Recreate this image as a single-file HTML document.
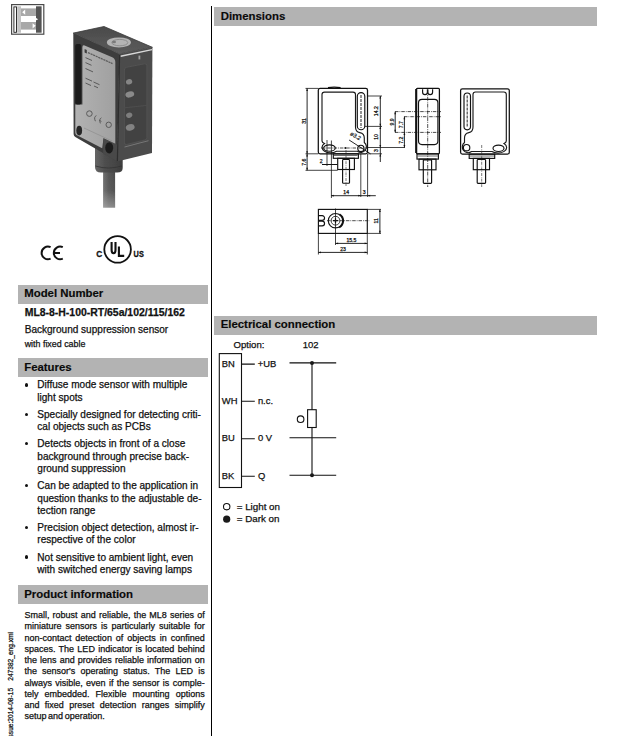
<!DOCTYPE html>
<html><head><meta charset="utf-8">
<style>
*{margin:0;padding:0;box-sizing:border-box}
html,body{width:618px;height:736px;background:#fff;overflow:hidden}
body{position:relative;font-family:"Liberation Sans",sans-serif;color:#111}
.t{position:absolute;white-space:nowrap;line-height:1;-webkit-text-stroke:0.25px #111}
.a{position:absolute}
.bar{position:absolute;background:#b3b3b3}
.h{font-weight:bold;font-size:11.4px;color:#0a0a0a;-webkit-text-stroke:0.15px #0a0a0a}
.f{left:37.3px;font-size:10.05px}
.bul{position:absolute;left:24.5px;width:3.6px;height:3.6px;border-radius:50%;background:#111}
.p{left:24.4px;font-size:9px}
.p.j{width:180.3px;text-align:justify;text-align-last:justify}
.p.last{word-spacing:-0.8px}
.vline{position:absolute;left:210.8px;top:5.8px;width:1.3px;height:731px;background:#000}
</style></head><body>
<div class="vline"></div>
<svg class="a" style="left:0;top:0" width="60" height="40" viewBox="0 0 60 40">
  <rect x="11.6" y="4.6" width="32.2" height="29.6" fill="#fff" stroke="#4a4a4a" stroke-width="1.2"/>
  <rect x="13.9" y="6.9" width="2.6" height="25.4" fill="#fff" stroke="#1a1a1a" stroke-width="0.9"/>
  <rect x="17.2" y="6.3" width="3.8" height="26.4" fill="#c4c4c4"/>
  <rect x="21" y="8.4" width="15" height="7.6" fill="#a8a8a8"/>
  <rect x="21" y="22" width="15" height="7.6" fill="#a8a8a8"/>
  <path d="M22.2 12.2 L25.2 9.6 V14.8 Z" fill="#fff"/>
  <path d="M35.6 25.8 L32.6 23.2 V28.4 Z" fill="#fff"/>
  <path d="M35.2 17.6 L38.2 19.2 L35.2 20.8 Z" fill="#fff"/>
  <rect x="36" y="6.3" width="5.6" height="26.4" fill="#545454"/>
  <path d="M35.2 17.6 L38.2 19.2 L35.2 20.8 Z" fill="#fff"/>
</svg>

<svg class="a" style="left:0;top:0" width="210" height="230" viewBox="0 0 210 230">
<defs>
<linearGradient id="cab" x1="0" x2="1" y1="0" y2="0"><stop offset="0" stop-color="#6e6e6e"/><stop offset="0.45" stop-color="#555"/><stop offset="1" stop-color="#4a4a4a"/></linearGradient>
<linearGradient id="cabf" x1="0" x2="0" y1="0" y2="1"><stop offset="0" stop-color="#fff" stop-opacity="0"/><stop offset="0.6" stop-color="#fff" stop-opacity="0.05"/><stop offset="1" stop-color="#fff" stop-opacity="0.35"/></linearGradient>
<linearGradient id="sr" x1="0" x2="1" y1="0" y2="0"><stop offset="0" stop-color="#666"/><stop offset="0.35" stop-color="#4e4e4e"/><stop offset="1" stop-color="#3e3e3e"/></linearGradient>
<linearGradient id="lab" x1="0" x2="1" y1="0" y2="0"><stop offset="0" stop-color="#b2b2b2"/><stop offset="1" stop-color="#a0a0a0"/></linearGradient>
<linearGradient id="top" x1="0" x2="0" y1="0" y2="1"><stop offset="0" stop-color="#4a4a4a"/><stop offset="1" stop-color="#5c5c5c"/></linearGradient>
<filter id="bl" x="-5%" y="-5%" width="110%" height="110%"><feGaussianBlur stdDeviation="0.5"/></filter>
</defs>
<g filter="url(#bl)">
<!-- cable -->
<rect x="103.1" y="165" width="12" height="42.6" fill="url(#cab)"/>
<rect x="103.1" y="165" width="12" height="42.6" fill="url(#cabf)"/>
<!-- strain relief -->
<path d="M95 146 L122.7 150 L122.7 168 Q122.7 172.6 117 172.6 L101 172.6 Q95 172.6 95 167 Z" fill="url(#sr)"/>
<path d="M95.5 166 Q108 170 122 166" stroke="#333" stroke-width="0.8" fill="none"/>
<!-- left face frame -->
<path d="M73.3 33.1 L119.4 54.1 L117.2 161.6 L103 153 L75.3 137 Q73.6 136 73.6 134 Z" fill="#3e3e3e"/>
<!-- label -->
<path d="M84.6 45.4 L112.2 57.3 Q115.3 58.8 115.3 62 L115.3 144.5 L103.5 138.3 L102.2 148.3 L76.5 135 Q75.3 134.3 75.3 132.5 L75.3 104.5 L82.4 104.5 L82.4 47.5 Q82.4 44.5 84.6 45.4 Z" fill="url(#lab)"/>
<!-- LED slot -->
<rect x="75.2" y="44" width="6.2" height="60.5" rx="2" fill="#1c1c1c"/>
<!-- label text marks -->
<g stroke="#5a5a5a" stroke-width="1" fill="none">
<rect x="84.6" y="49.2" width="2.2" height="3.6" fill="#3a3a3a" stroke="none" transform="skewY(24)" transform-origin="85 50"/>
<path d="M88 52.6 L112.5 63.6" stroke-width="1.2" stroke-dasharray="2.2 0.6"/>
<path d="M85.5 57.6 L92 60.5 M85.5 62.6 L91.5 65.3 M85.5 68.5 L93 71.9"/>
<path d="M85.5 78.2 L92 81.1 M85.5 83 L91 85.5 M93.5 82 L99.5 84.7 M94 86 L98 87.8"/>
<circle cx="89.4" cy="113.6" r="2.8"/>
<path d="M96.4 115.6 Q93.4 117 95.4 121.2 M101.4 117.8 Q98.6 119.2 100.4 123.4 M99.2 120.4 L101.4 121.4"/>
<circle cx="108.7" cy="124.8" r="2.7"/>
<path d="M84 128 L112 141" stroke="#8e8e8e" stroke-width="0.7"/>
</g>
<!-- lower-left hole -->
<ellipse cx="79.2" cy="130.6" rx="2.9" ry="4.8" fill="#262626"/>
<!-- boss -->
<path d="M103.5 138.3 L117.2 144.5 L117.2 161.6 L103 153.5 Z" fill="#484848"/>
<ellipse cx="109.2" cy="147.8" rx="4" ry="5.6" fill="#1e1e1e"/>
<!-- top face -->
<path d="M73.3 33.1 L104 26.5 L152.4 47.3 L119.4 54.1 Z" fill="url(#top)" stroke="#3a3a3a" stroke-width="0.8" stroke-linejoin="round"/>
<ellipse cx="118.9" cy="42.4" rx="12" ry="5" fill="#b4b4b4"/>
<ellipse cx="119.8" cy="42.6" rx="8" ry="3.2" fill="none" stroke="#8e8e8e" stroke-width="1"/>
<ellipse cx="114" cy="42" rx="2" ry="1.3" fill="#7a7a7a"/>
<!-- front face -->
<path d="M119.4 54.1 L152.4 47.3 L152 153 L117.2 161.6 Z" fill="#4b4b4b"/>
<path d="M120.6 56.3 L152 49.6" stroke="#d8d8d8" stroke-width="1.4"/>
<path d="M124.4 70 Q124.4 67.6 126.8 67.2 L144.6 63.8 Q146.9 63.4 146.9 65.8 L146.9 137.6 Q146.9 139.6 145 140 L126.5 144.5 Q124.4 145 124.4 142.8 Z" fill="#424242" stroke="#555" stroke-width="0.8"/>
<path d="M124.5 147 L148.5 140.7" stroke="#7a7a7a" stroke-width="0.9"/>
<path d="M124.4 107.8 L146.9 105.4" stroke="#4e4e4e" stroke-width="1"/>
<path d="M139.4 55.6 L139.4 59.4" stroke="#a0a0a0" stroke-width="1.8"/>
<ellipse cx="129.1" cy="81.8" rx="3.2" ry="2.6" fill="#858585" transform="rotate(-20 129.1 81.8)"/>
<ellipse cx="129.8" cy="94.4" rx="4.5" ry="3" fill="#8a8a8a" transform="rotate(-15 129.8 94.4)"/>
<ellipse cx="129.2" cy="115.2" rx="3.2" ry="2.6" fill="#7d7d7d" transform="rotate(-20 129.2 115.2)"/>
<ellipse cx="130.2" cy="127.4" rx="4.5" ry="3.2" fill="#828282" transform="rotate(-15 130.2 127.4)"/>
<path d="M119.6 54.5 L117.4 161" stroke="#2e2e2e" stroke-width="1.2"/>
</g>
</svg>

<svg class="a" style="left:0;top:0" width="160" height="270" viewBox="0 0 160 270">
<g fill="none" stroke="#111" stroke-width="2">
<path d="M50.6 247.2 A6.3 6.3 0 1 0 50.6 258.6"/>
<path d="M62.8 247.2 A6.3 6.3 0 1 0 62.8 258.6 M53.6 252.9 H60"/>
<circle cx="117.6" cy="249.4" r="13.3" stroke-width="1.8"/>
</g>
<g fill="#111" font-family="Liberation Sans" font-weight="bold" stroke="#111" stroke-width="0.35">
<text x="0" y="0" font-size="9.9px" transform="translate(96.2 257.1) scale(0.84 1)">C</text>
<text x="0" y="0" font-size="9.9px" transform="translate(133.6 257.1) scale(0.74 1)">US</text>
</g>
<g fill="none" stroke="#111" stroke-width="2.1" stroke-linecap="butt">
<path d="M111.6 242 V250 Q111.6 253.2 113.6 253.2 Q115.5 253.2 115.5 250 V242"/>
<path d="M118.9 246.5 V255.9 H124.2"/>
</g>
</svg>

<div class="bar" style="left:214.0px;top:7.1px;width:383.0px;height:18.6px"></div>
<div class="t h" style="left:220.7px;top:10.75px">Dimensions</div>
<div class="bar" style="left:18.1px;top:285.1px;width:189.9px;height:18.6px"></div>
<div class="t h" style="left:24.2px;top:287.95px">Model Number</div>
<div class="bar" style="left:18.1px;top:358.1px;width:189.9px;height:18.6px"></div>
<div class="t h" style="left:24.2px;top:361.85px">Features</div>
<div class="bar" style="left:18.1px;top:585.1px;width:189.9px;height:18.6px"></div>
<div class="t h" style="left:24.2px;top:588.85px">Product information</div>
<div class="bar" style="left:214.0px;top:316.1px;width:383.0px;height:18.6px"></div>
<div class="t h" style="left:220.7px;top:318.65px">Electrical connection</div>
<div class="t" style="left:24.7px;top:307.75px;font-weight:bold;font-size:10.45px">ML8-8-H-100-RT/65a/102/115/162</div>
<div class="t" style="left:24.7px;top:324.79px;font-size:10.05px">Background suppression sensor</div>
<div class="t" style="left:24.7px;top:340.1px;font-size:8.9px">with fixed cable</div>
<div class="t f" style="top:380.49px">Diffuse mode sensor with multiple</div>
<div class="bul" style="top:383.0px"></div>
<div class="t f" style="top:392.79px">light spots</div>
<div class="t f" style="top:409.99px">Specially designed for detecting criti-</div>
<div class="bul" style="top:412.5px"></div>
<div class="t f" style="top:422.29px">cal objects such as PCBs</div>
<div class="t f" style="top:439.39px">Detects objects in front of a close</div>
<div class="bul" style="top:441.9px"></div>
<div class="t f" style="top:451.64px">background through precise back-</div>
<div class="t f" style="top:463.89px">ground suppression</div>
<div class="t f" style="top:481.39px">Can be adapted to the application in</div>
<div class="bul" style="top:483.9px"></div>
<div class="t f" style="top:493.64px">question thanks to the adjustable de-</div>
<div class="t f" style="top:505.89px">tection range</div>
<div class="t f" style="top:522.99px">Precision object detection, almost ir-</div>
<div class="bul" style="top:525.5px"></div>
<div class="t f" style="top:535.29px">respective of the color</div>
<div class="t f" style="top:552.69px">Not sensitive to ambient light, even</div>
<div class="bul" style="top:555.2px"></div>
<div class="t f" style="top:564.99px">with switched energy saving lamps</div>
<div class="t p j" style="top:611.08px">Small, robust and reliable, the ML8 series of</div>
<div class="t p j" style="top:622.32px">miniature sensors is particularly suitable for</div>
<div class="t p j" style="top:633.56px">non-contact detection of objects in confined</div>
<div class="t p j" style="top:644.8px">spaces. The LED indicator is located behind</div>
<div class="t p j" style="top:656.04px">the lens and provides reliable information on</div>
<div class="t p j" style="top:667.28px">the sensor's operating status. The LED is</div>
<div class="t p j" style="top:678.52px">always visible, even if the sensor is comple-</div>
<div class="t p j" style="top:689.76px">tely embedded. Flexible mounting options</div>
<div class="t p j" style="top:701.0px">and fixed preset detection ranges simplify</div>
<div class="t p last" style="top:712.24px">setup and operation.</div>
<div class="t" style="left:7.8px;top:761.65px;transform-origin:0 0;transform:rotate(-90deg);font-size:6.6px">Date of issue:2014-08-15<span style="display:inline-block;width:7.2px"></span>247382_eng.xml</div>
<svg class="a" style="left:0;top:0" width="618" height="300" viewBox="0 0 618 300"><g font-family="Liberation Sans" fill="#111"><rect x="318.3" y="88.4" width="49.2" height="65.4" rx="1.8" fill="none" stroke="#111" stroke-width="1.25"/>
<path d="M328 87.6 Q334 86.6 340.6 87.6" fill="none" stroke="#111" stroke-width="1.3"/>
<path d="M322 141 V94.6 Q322 92.1 324.5 92.1 H353 Q355.5 92.1 355.5 94.6 V127 Q355.5 131.8 359.8 132.6 Q364.3 133.5 364.3 138 V142.5 A4.6 4.6 0 0 1 357.5 151.2 H336.5 A6.2 4 0 0 1 324.5 143.5 Q322 142.5 322 141" fill="none" stroke="#1a1a1a" stroke-width="1.15"/>
<rect x="357.3" y="92.6" width="7.5" height="37.1" rx="3.75" fill="none" stroke="#111" stroke-width="1.15"/>
<line x1="361" y1="95" x2="361" y2="128" stroke="#666" stroke-width="1.43" stroke-dasharray="3 1"/>
<ellipse cx="329.5" cy="148" rx="5.8" ry="3.2" fill="none" stroke="#111" stroke-width="1.15"/>
<circle cx="360.9" cy="148.4" r="3.1" fill="none" stroke="#111" stroke-width="1.15"/>
<line x1="321" y1="148" x2="367" y2="148" stroke="#1a1a1a" stroke-width="0.78" stroke-dasharray="3.5 1 0.8 1"/>
<circle cx="345.5" cy="148" r="0.9" fill="#111"/>
<rect x="333.3" y="153.8" width="25.1" height="4.5" fill="none" stroke="#111" stroke-width="1.15"/>
<line x1="334" y1="155.5" x2="357.6" y2="155.5" stroke="#444" stroke-width="0.78" />
<rect x="337.7" y="158.3" width="16.7" height="11.2" fill="none" stroke="#111" stroke-width="1.15"/>
<rect x="342.6" y="159.5" width="6.9" height="23.7" rx="0.8" fill="none" stroke="#111" stroke-width="1.15"/>
<line x1="346" y1="150" x2="346" y2="186" stroke="#333" stroke-width="0.65" stroke-dasharray="3 1 0.6 1"/>
<line x1="305.5" y1="88.4" x2="318.3" y2="88.4" stroke="#111" stroke-width="0.78" />
<line x1="305.5" y1="153.8" x2="318.3" y2="153.8" stroke="#111" stroke-width="0.78" />
<line x1="305.5" y1="170.3" x2="337.7" y2="170.3" stroke="#111" stroke-width="0.78" />
<line x1="307.1" y1="88.4" x2="307.1" y2="153.8" stroke="#111" stroke-width="0.91" />
<path d="M307.10 88.40 L306.20 91.00 L308.00 91.00Z" fill="#111"/>
<path d="M307.10 153.80 L306.20 151.20 L308.00 151.20Z" fill="#111"/>
<line x1="307.1" y1="153.8" x2="307.1" y2="170.3" stroke="#111" stroke-width="0.91" />
<path d="M307.10 153.80 L306.20 156.40 L308.00 156.40Z" fill="#111"/>
<path d="M307.10 170.30 L306.20 167.70 L308.00 167.70Z" fill="#111"/>
<text x="0" y="0" transform="translate(305.8 121) rotate(-90)" text-anchor="middle" font-size="5.1px" stroke="#111" stroke-width="0.25">31</text>
<text x="0" y="0" transform="translate(305.8 162.3) rotate(-90)" text-anchor="middle" font-size="5.1px" stroke="#111" stroke-width="0.25">7.6</text>
<line x1="327" y1="140" x2="327" y2="166" stroke="#111" stroke-width="0.78" />
<line x1="331.4" y1="140.5" x2="331.4" y2="198" stroke="#111" stroke-width="0.78" />
<line x1="322" y1="164.5" x2="337.5" y2="164.5" stroke="#111" stroke-width="1.04" />
<text x="321.2" y="163.2" text-anchor="middle" font-size="5.1px" stroke="#111" stroke-width="0.25">2</text>
<line x1="367.5" y1="96" x2="382" y2="96" stroke="#111" stroke-width="0.78" />
<line x1="365" y1="126.4" x2="382" y2="126.4" stroke="#111" stroke-width="0.78" />
<line x1="368" y1="147.5" x2="405" y2="147.5" stroke="#111" stroke-width="0.78" />
<line x1="368" y1="153.8" x2="382" y2="153.8" stroke="#111" stroke-width="0.78" />
<line x1="380.3" y1="96" x2="380.3" y2="126.4" stroke="#111" stroke-width="0.91" />
<path d="M380.30 96.00 L379.40 98.60 L381.20 98.60Z" fill="#111"/>
<path d="M380.30 126.40 L379.40 123.80 L381.20 123.80Z" fill="#111"/>
<line x1="380.3" y1="126.4" x2="380.3" y2="147.5" stroke="#111" stroke-width="0.91" />
<path d="M380.30 126.40 L379.40 129.00 L381.20 129.00Z" fill="#111"/>
<path d="M380.30 147.50 L379.40 144.90 L381.20 144.90Z" fill="#111"/>
<line x1="380.3" y1="147.5" x2="380.3" y2="162" stroke="#111" stroke-width="0.91" />
<path d="M380.30 153.80 L379.40 156.40 L381.20 156.40Z" fill="#111"/>
<text x="0" y="0" transform="translate(378.2 111.2) rotate(-90)" text-anchor="middle" font-size="5.1px" stroke="#111" stroke-width="0.25">14.2</text>
<text x="0" y="0" transform="translate(378.2 136.9) rotate(-90)" text-anchor="middle" font-size="5.1px" stroke="#111" stroke-width="0.25">10</text>
<text x="0" y="0" transform="translate(378.2 150.7) rotate(-90)" text-anchor="middle" font-size="5.1px" stroke="#111" stroke-width="0.25">3</text>
<line x1="349.1" y1="140" x2="370.6" y2="153.9" stroke="#111" stroke-width="0.91" />
<text x="0" y="0" transform="translate(354.6 137.6) rotate(30)" text-anchor="middle" font-size="5.6px" stroke="#111" stroke-width="0.2">ø3.2</text>
<line x1="360.8" y1="154" x2="360.8" y2="197" stroke="#111" stroke-width="0.78" />
<line x1="367.6" y1="154" x2="367.6" y2="197" stroke="#111" stroke-width="0.78" />
<line x1="331.2" y1="195.7" x2="375.8" y2="195.7" stroke="#111" stroke-width="0.91" />
<path d="M331.20 195.70 L333.80 194.80 L333.80 196.60Z" fill="#111"/>
<path d="M360.80 195.70 L358.20 194.80 L358.20 196.60Z" fill="#111"/>
<path d="M367.60 195.70 L370.20 194.80 L370.20 196.60Z" fill="#111"/>
<text x="346.2" y="193.6" text-anchor="middle" font-size="5.1px" stroke="#111" stroke-width="0.25">14</text>
<text x="364.2" y="193.6" text-anchor="middle" font-size="5.1px" stroke="#111" stroke-width="0.25">3</text>
<rect x="416.4" y="88.3" width="23" height="65.5" rx="1" fill="none" stroke="#111" stroke-width="1.25"/>
<line x1="416.2" y1="89" x2="416.2" y2="153" stroke="#111" stroke-width="2.08" />
<rect x="418.5" y="99.4" width="19.4" height="45.2" rx="3.5" fill="none" stroke="#111" stroke-width="1.15"/>
<path d="M422.6 89.2 V92.2 Q422.6 94.6 425 94.6 Q427.4 94.6 427.4 92.2 V89.2 M427.8 89.2 V92.2 Q427.8 94.6 430.2 94.6 Q432.6 94.6 432.6 92.2 V89.2" fill="none" stroke="#111" stroke-width="1.15"/>
<line x1="427.7" y1="90" x2="427.7" y2="187" stroke="#222" stroke-width="0.78" stroke-dasharray="4 1 0.8 1"/>
<line x1="395" y1="111.6" x2="441" y2="111.6" stroke="#1a1a1a" stroke-width="0.78" stroke-dasharray="3.5 1 0.8 1"/>
<line x1="404" y1="116.7" x2="441" y2="116.7" stroke="#1a1a1a" stroke-width="0.78" stroke-dasharray="3.5 1 0.8 1"/>
<line x1="395" y1="132.4" x2="441" y2="132.4" stroke="#1a1a1a" stroke-width="0.78" stroke-dasharray="3.5 1 0.8 1"/>
<line x1="395.2" y1="111.6" x2="395.2" y2="132.4" stroke="#111" stroke-width="0.91" />
<path d="M395.20 111.60 L394.30 114.20 L396.10 114.20Z" fill="#111"/>
<path d="M395.20 132.40 L394.30 129.80 L396.10 129.80Z" fill="#111"/>
<line x1="404.4" y1="116.7" x2="404.4" y2="147.5" stroke="#111" stroke-width="0.91" />
<path d="M404.40 116.70 L403.50 119.30 L405.30 119.30Z" fill="#111"/>
<path d="M404.40 147.50 L403.50 144.90 L405.30 144.90Z" fill="#111"/>
<path d="M404.40 132.40 L403.50 135.00 L405.30 135.00Z" fill="#111"/>
<text x="0" y="0" transform="translate(393.7 121.9) rotate(-90)" text-anchor="middle" font-size="5.1px" stroke="#111" stroke-width="0.25">9.9</text>
<text x="0" y="0" transform="translate(402.5 124.6) rotate(-90)" text-anchor="middle" font-size="5.1px" stroke="#111" stroke-width="0.25">7.7</text>
<text x="0" y="0" transform="translate(402.5 140.3) rotate(-90)" text-anchor="middle" font-size="5.1px" stroke="#111" stroke-width="0.25">7.2</text>
<rect x="417" y="153.8" width="21.4" height="5.3" fill="none" stroke="#111" stroke-width="1.15"/>
<line x1="417.5" y1="156" x2="438" y2="156" stroke="#444" stroke-width="0.78" />
<rect x="419" y="159.1" width="17" height="10.7" fill="none" stroke="#111" stroke-width="1.15"/>
<rect x="423.3" y="159.8" width="8.3" height="23.6" rx="0.8" fill="none" stroke="#111" stroke-width="1.15"/>
<rect x="460.6" y="88.8" width="48.7" height="65.3" rx="1.8" fill="none" stroke="#111" stroke-width="1.25"/>
<path d="M506.3 141 V94.5 Q506.3 92 503.8 92 H475.5 Q473 92 473 94.5 V127 Q473 131.8 468.8 132.6 Q464.5 133.5 464.5 138 V142.5 A4.6 4.6 0 0 0 471.5 151.5 H492 A6.2 4 0 0 0 504 143.5 Q506.3 142.5 506.3 141" fill="none" stroke="#1a1a1a" stroke-width="1.15"/>
<rect x="464" y="93" width="6.5" height="36.8" rx="3.25" fill="none" stroke="#111" stroke-width="1.15"/>
<line x1="467.25" y1="95.5" x2="467.25" y2="127.5" stroke="#666" stroke-width="1.43" stroke-dasharray="3 1"/>
<circle cx="466.6" cy="147.7" r="3.2" fill="none" stroke="#111" stroke-width="1.15"/>
<ellipse cx="498.5" cy="148.3" rx="5.5" ry="3.2" fill="none" stroke="#111" stroke-width="1.15"/>
<line x1="481.7" y1="145" x2="481.7" y2="187" stroke="#333" stroke-width="0.65" stroke-dasharray="3 1 0.6 1"/>
<rect x="469.2" y="154.1" width="25.5" height="4.3" fill="none" stroke="#111" stroke-width="1.15"/>
<line x1="470" y1="156" x2="494" y2="156" stroke="#444" stroke-width="0.78" />
<rect x="473.3" y="158.4" width="16.2" height="11.3" fill="none" stroke="#111" stroke-width="1.15"/>
<rect x="477.2" y="159.5" width="8.4" height="23.8" rx="0.8" fill="none" stroke="#111" stroke-width="1.15"/>
<rect x="318.4" y="209.4" width="48.9" height="24" fill="none" stroke="#111" stroke-width="1.15"/>
<line x1="367.3" y1="209.4" x2="381" y2="209.4" stroke="#111" stroke-width="0.78" />
<line x1="367.3" y1="233.4" x2="381" y2="233.4" stroke="#111" stroke-width="0.78" />
<line x1="379.9" y1="209.4" x2="379.9" y2="233.4" stroke="#111" stroke-width="0.91" />
<path d="M379.90 209.40 L379.00 212.00 L380.80 212.00Z" fill="#111"/>
<path d="M379.90 233.40 L379.00 230.80 L380.80 230.80Z" fill="#111"/>
<text x="0" y="0" transform="translate(377.6 220.9) rotate(-90)" text-anchor="middle" font-size="5.1px" stroke="#111" stroke-width="0.25">11</text>
<circle cx="335.5" cy="220.7" r="7.2" fill="none" stroke="#111" stroke-width="1.1"/>
<circle cx="335.5" cy="220.7" r="4.4" fill="none" stroke="#111" stroke-width="0.8"/>
<path d="M339.5 214.2 A7.6 7.6 0 0 1 339.2 227.5" fill="none" stroke="#111" stroke-width="1.6"/>
<path d="M333 220.7 H338 M335.5 218.2 V223.2" stroke="#111" stroke-width="1.25"/>
<line x1="335.5" y1="208.5" x2="335.5" y2="245" stroke="#111" stroke-width="0.78" />
<line x1="327" y1="220.7" x2="369.5" y2="220.7" stroke="#1a1a1a" stroke-width="0.78" stroke-dasharray="3.5 1 0.8 1"/>
<path d="M318.4 215.6 H322.2 A2.35 2.35 0 0 1 322.2 220.3 H318.4 M318.4 221.1 H322.2 A2.35 2.35 0 0 1 322.2 225.8 H318.4" fill="none" stroke="#111" stroke-width="1.15"/>
<line x1="318.4" y1="233.4" x2="318.4" y2="254.5" stroke="#111" stroke-width="0.78" />
<line x1="367.3" y1="233.4" x2="367.3" y2="254.5" stroke="#111" stroke-width="0.78" />
<line x1="335.5" y1="243.4" x2="367.3" y2="243.4" stroke="#111" stroke-width="0.91" />
<path d="M335.50 243.40 L338.10 242.50 L338.10 244.30Z" fill="#111"/>
<path d="M367.30 243.40 L364.70 242.50 L364.70 244.30Z" fill="#111"/>
<line x1="318.4" y1="252.4" x2="367.3" y2="252.4" stroke="#111" stroke-width="0.91" />
<path d="M318.40 252.40 L321.00 251.50 L321.00 253.30Z" fill="#111"/>
<path d="M367.30 252.40 L364.70 251.50 L364.70 253.30Z" fill="#111"/>
<text x="351.4" y="242.3" text-anchor="middle" font-size="5.1px" stroke="#111" stroke-width="0.25">15.5</text>
<text x="343" y="251.2" text-anchor="middle" font-size="5.1px" stroke="#111" stroke-width="0.25">23</text></g></svg>
<svg class="a" style="left:0;top:0" width="618" height="736" viewBox="0 0 618 736">
<g fill="none" stroke="#111" stroke-width="1.1">
<rect x="219.3" y="353.6" width="22.2" height="133.9"/>
<path d="M241.5 364.1H254.8M241.5 401.3H254.8M241.5 438.7H254.8M241.5 476.3H254.8"/>
<path d="M289.5 362.9H336.2M289.5 437.7H336.2M289.5 475.2H336.2" stroke-width="1.1"/>
<path d="M312 362.9V409.7M312 427.5V475.2"/>
<rect x="307.6" y="409.7" width="8.6" height="17.8"/>
<circle cx="300.6" cy="419.2" r="3.3"/>
<circle cx="226.7" cy="506.7" r="3.2"/>
</g>
<g fill="#1a1a1a">
<circle cx="312" cy="362.9" r="2"/>
<circle cx="312" cy="475.2" r="2"/>
<circle cx="226.7" cy="519.2" r="3.6"/>
</g>
<g font-family="Liberation Sans" font-size="9.4px" fill="#111" stroke="#111" stroke-width="0.25">
<text x="233.5" y="347.9" font-size="9.6px">Option:</text>
<text x="302.8" y="347.9" font-size="9.5px">102</text>
<text x="221.8" y="366.7">BN</text>
<text x="221.8" y="403.9">WH</text>
<text x="221.8" y="441.3">BU</text>
<text x="221.8" y="479.2">BK</text>
<text x="257.7" y="366.7">+UB</text>
<text x="257.9" y="403.9">n.c.</text>
<text x="257.9" y="441.3">0 V</text>
<text x="257.9" y="479.2">Q</text>
<text x="236.7" y="509.7" font-size="9.8px">= Light on</text>
<text x="236.7" y="522.0" font-size="9.8px">= Dark on</text>
</g>
</svg>

</body></html>
